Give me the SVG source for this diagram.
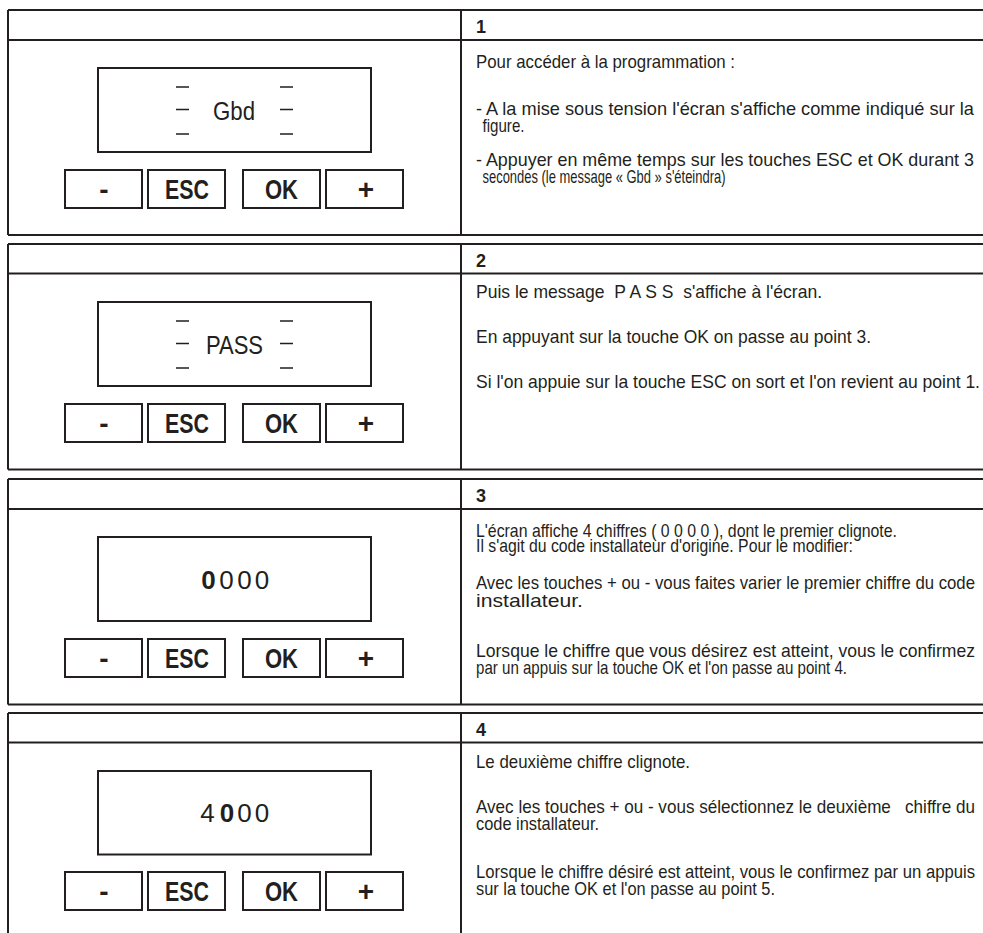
<svg xmlns="http://www.w3.org/2000/svg" width="983" height="933" viewBox="0 0 983 933">
<style>
.ln{stroke:#231f20;stroke-width:2;fill:none}
.box{fill:#fff;stroke:#231f20;stroke-width:2}
.dash{stroke:#231f20;stroke-width:1.6}
text{font-family:"Liberation Sans",Arial,sans-serif;fill:#231f20}
.t{font-size:18.5px}
.hd{font-size:18px;font-weight:bold}
.key{font-size:28px;font-weight:bold}
.disp{font-size:26px}
.b{font-weight:bold}
</style>
<rect width="983" height="933" fill="#fff"/>

<g id="step1" transform="translate(0,10)">
<path class="ln" d="M8,0H983M8,30H983M8,225H983M8,0V225M461,0V225"/>
<rect class="box" x="98" y="58" width="273" height="84"/>
<path class="dash" d="M176,77H189M176,99.5H189M176,124H189M280,77H293M280,99.5H293M280,124H293"/>
<text class="disp" x="213" y="109.5" textLength="42" lengthAdjust="spacingAndGlyphs">Gbd</text>
<rect class="box" x="65" y="160" width="77" height="38"/>
<rect class="box" x="148" y="160" width="77" height="38"/>
<rect class="box" x="243" y="160" width="77" height="38"/>
<rect class="box" x="326" y="160" width="77" height="38"/>
<text class="key" x="104" y="189" text-anchor="middle">-</text>
<text class="key" x="165" y="189" textLength="44" lengthAdjust="spacingAndGlyphs">ESC</text>
<text class="key" x="265" y="189" textLength="33" lengthAdjust="spacingAndGlyphs">OK</text>
<text class="key" x="366" y="189" text-anchor="middle" font-size="24">+</text>
<text class="hd" x="476" y="23">1</text>
<text class="t" x="476" y="57.5" textLength="259" lengthAdjust="spacingAndGlyphs">Pour accéder à la programmation :</text>
<text class="t" x="476" y="104.5" textLength="498" lengthAdjust="spacingAndGlyphs">- A la mise sous tension l'écran s'affiche comme indiqué sur la</text>
<text class="t" x="482.5" y="121.5" textLength="42" lengthAdjust="spacingAndGlyphs">figure.</text>
<text class="t" x="476" y="156" textLength="498" lengthAdjust="spacingAndGlyphs">- Appuyer en même temps sur les touches ESC et OK durant 3</text>
<text class="t" x="482.5" y="173" textLength="243" lengthAdjust="spacingAndGlyphs">secondes (le message « Gbd » s'éteindra)</text>
</g>

<g id="step2" transform="translate(0,244)">
<path class="ln" d="M8,0H983M8,29.5H983M8,225.5H983M8,0V225.5M461,0V225.5"/>
<rect class="box" x="98" y="58" width="273" height="84"/>
<path class="dash" d="M176,77H189M176,99.5H189M176,124H189M280,77H293M280,99.5H293M280,124H293"/>
<text class="disp" x="206" y="110" textLength="57" lengthAdjust="spacingAndGlyphs">PASS</text>
<rect class="box" x="65" y="160" width="77" height="38"/>
<rect class="box" x="148" y="160" width="77" height="38"/>
<rect class="box" x="243" y="160" width="77" height="38"/>
<rect class="box" x="326" y="160" width="77" height="38"/>
<text class="key" x="104" y="189" text-anchor="middle">-</text>
<text class="key" x="165" y="189" textLength="44" lengthAdjust="spacingAndGlyphs">ESC</text>
<text class="key" x="265" y="189" textLength="33" lengthAdjust="spacingAndGlyphs">OK</text>
<text class="key" x="366" y="189" text-anchor="middle" font-size="24">+</text>
<text class="hd" x="476" y="23">2</text>
<text class="t" x="476" y="54" textLength="346" lengthAdjust="spacingAndGlyphs" xml:space="preserve">Puis le message  P A S S  s'affiche à l'écran.</text>
<text class="t" x="476" y="99" textLength="395" lengthAdjust="spacingAndGlyphs">En appuyant sur la touche OK on passe au point 3.</text>
<text class="t" x="476" y="144" textLength="504" lengthAdjust="spacingAndGlyphs">Si l'on appuie sur la touche ESC on sort et l'on revient au point 1.</text>
</g>

<g id="step3" transform="translate(0,479)">
<path class="ln" d="M8,0H983M8,30H983M8,225.5H983M8,0V225.5M461,0V225.5"/>
<rect class="box" x="98" y="58" width="273" height="84"/>
<text class="disp b" x="208.5" y="109.5" text-anchor="middle">0</text>
<text class="disp" x="226.5" y="109.5" text-anchor="middle">0</text>
<text class="disp" x="244.5" y="109.5" text-anchor="middle">0</text>
<text class="disp" x="262" y="109.5" text-anchor="middle">0</text>
<rect class="box" x="65" y="160" width="77" height="38"/>
<rect class="box" x="148" y="160" width="77" height="38"/>
<rect class="box" x="243" y="160" width="77" height="38"/>
<rect class="box" x="326" y="160" width="77" height="38"/>
<text class="key" x="104" y="189" text-anchor="middle">-</text>
<text class="key" x="165" y="189" textLength="44" lengthAdjust="spacingAndGlyphs">ESC</text>
<text class="key" x="265" y="189" textLength="33" lengthAdjust="spacingAndGlyphs">OK</text>
<text class="key" x="366" y="189" text-anchor="middle" font-size="24">+</text>
<text class="hd" x="476" y="23">3</text>
<text class="t" x="476" y="58" textLength="421" lengthAdjust="spacingAndGlyphs">L'écran affiche 4 chiffres ( 0 0 0 0 ), dont le premier clignote.</text>
<text class="t" x="476" y="72.5" textLength="377" lengthAdjust="spacingAndGlyphs">Il s'agit du code installateur d'origine. Pour le modifier:</text>
<text class="t" x="476" y="109.5" textLength="499" lengthAdjust="spacingAndGlyphs">Avec les touches + ou - vous faites varier le premier chiffre du code</text>
<text class="t" x="476" y="127.5" textLength="107" lengthAdjust="spacingAndGlyphs">installateur.</text>
<text class="t" x="476" y="177.5" textLength="499" lengthAdjust="spacingAndGlyphs">Lorsque le chiffre que vous désirez est atteint, vous le confirmez</text>
<text class="t" x="476" y="194.5" textLength="371" lengthAdjust="spacingAndGlyphs">par un appuis sur la touche OK et l'on passe au point 4.</text>
</g>

<g id="step4" transform="translate(0,713)">
<path class="ln" d="M8,0H983M8,29.5H983M8,0V225M461,0V225"/>
<rect class="box" x="98" y="58" width="273" height="83.5"/>
<text class="disp" x="207.5" y="109" text-anchor="middle">4</text>
<text class="disp b" x="227" y="109" text-anchor="middle">0</text>
<text class="disp" x="244.5" y="109" text-anchor="middle">0</text>
<text class="disp" x="262" y="109" text-anchor="middle">0</text>
<rect class="box" x="65" y="159" width="77" height="38"/>
<rect class="box" x="148" y="159" width="77" height="38"/>
<rect class="box" x="243" y="159" width="77" height="38"/>
<rect class="box" x="326" y="159" width="77" height="38"/>
<text class="key" x="104" y="188" text-anchor="middle">-</text>
<text class="key" x="165" y="188" textLength="44" lengthAdjust="spacingAndGlyphs">ESC</text>
<text class="key" x="265" y="188" textLength="33" lengthAdjust="spacingAndGlyphs">OK</text>
<text class="key" x="366" y="188" text-anchor="middle" font-size="24">+</text>
<text class="hd" x="476" y="22.5">4</text>
<text class="t" x="476" y="54.5" textLength="214" lengthAdjust="spacingAndGlyphs">Le deuxième chiffre clignote.</text>
<text class="t" x="476" y="99.5" textLength="499" lengthAdjust="spacingAndGlyphs" xml:space="preserve">Avec les touches + ou - vous sélectionnez le deuxième   chiffre du</text>
<text class="t" x="476" y="116.5" textLength="123" lengthAdjust="spacingAndGlyphs">code installateur.</text>
<text class="t" x="476" y="164.5" textLength="499" lengthAdjust="spacingAndGlyphs">Lorsque le chiffre désiré est atteint, vous le confirmez par un appuis</text>
<text class="t" x="476" y="182" textLength="299" lengthAdjust="spacingAndGlyphs">sur la touche OK et l'on passe au point 5.</text>
</g>
</svg>
